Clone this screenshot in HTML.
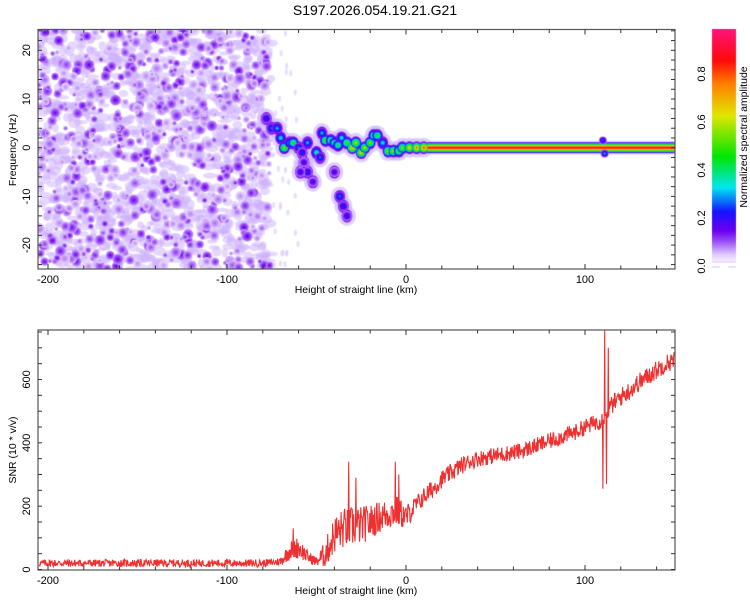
<!DOCTYPE html>
<html><head><meta charset="utf-8">
<style>
html,body{margin:0;padding:0;background:#fff;}
#wrap{position:relative;width:750px;height:600px;overflow:hidden;font-family:"Liberation Sans",sans-serif;}
canvas,svg{position:absolute;left:0;top:0;}
</style></head>
<body>
<div id="wrap">
<canvas id="heat" width="750" height="600"></canvas>
<svg id="svg" width="750" height="600"></svg>
</div>
<script>
// ---- data ----
const ridgeKm   = [-78,-75,-72,-70,-68,-65,-63,-60,-58,-57,-55,-52,-55,-50,-48,-47,-45,-42,-40,-38,-36,-33,-30,-28,-25,-23,-20,-18,-16,-13,-10,-7,-4,-2,2,6,10,-59,-57,-40,-37,-35,-33];
const ridgeHz   = [6,4,4,2,0,1,1,0,-1,-4,-5,-7,1,-1,-2,3,1.5,1.5,1,0.5,2,1,0,1,-1,0,1,2.5,2.5,1,-0.7,-0.7,-0.7,0,0,0,0,-5,-3,-5,-10,-12,-14];
const ridgeAmp  = [0.15,0.2,0.25,0.3,0.55,0.3,0.45,0.2,0.15,0.12,0.15,0.1,0.25,0.35,0.2,0.25,0.5,0.45,0.4,0.4,0.3,0.5,0.75,0.6,0.7,0.6,0.55,0.45,0.45,0.3,0.6,0.6,0.5,0.55,0.7,0.8,0.85,0.12,0.1,0.1,0.2,0.15,0.13];
const bandStartKm = 12, bandEndKm = 150, bandAmp = 0.92;
const snrKm   = [-205,-200,-195,-190,-185,-180,-175,-170,-165,-160,-155,-150,-145,-140,-135,-130,-125,-120,-115,-110,-105,-100,-95,-90,-85,-80,-75,-70,-65,-60,-55,-50,-45,-40,-35,-30,-25,-20,-15,-10,-5,0,5,10,15,20,25,30,35,40,45,50,55,60,65,70,75,80,85,90,95,100,105,110,115,120,125,130,135,140,145,150];
const snrBase = [20,20,20,20,20,20,20,20,20,20,20,20,20,20,20,20,20,20,20,20,20,20,20,20,20,20,22,25,60,70,40,25,50,110,130,135,140,150,165,175,185,165,200,230,255,285,305,325,340,350,355,360,365,370,375,385,395,405,415,425,435,450,462,475,520,545,565,590,610,630,650,660];
const snrNoise= [12,12,12,12,12,12,12,12,12,12,12,12,12,12,12,12,12,12,12,12,12,12,12,12,12,12,12,14,30,35,20,15,45,60,65,65,60,55,50,50,50,40,30,30,30,28,28,28,26,26,26,26,26,26,26,26,26,26,26,26,26,26,26,30,30,30,30,30,30,30,30,30];
const spikeKm  = [-63,-32,-28,-6,-4,110,111,112,113];
const spikeVal = [130,340,290,340,300,255,760,270,700];
const xTicksLabels = [-200,-100,0,100];
const fTickLabels = [-20,-10,0,10,20];
const snrTickLabels = [0,200,400,600];
const cbTickLabels = [0.0,0.2,0.4,0.6,0.8];

// ---- scales ----
const PL=38,PR=675,TT=29.5,TB=269,BT=330,BB=570;
const xs=km=>406+km*1.79;
const yf=f=>147.7-f*4.87;
const ys=v=>569.5-v*0.3167;
const cbY=a=>264-a*240;

const stops=[[0,[255,255,255]],[0.04,[225,205,255]],[0.1,[150,70,245]],[0.14,[110,0,240]],[0.22,[20,20,255]],[0.32,[0,230,240]],[0.45,[0,230,0]],[0.62,[225,230,0]],[0.75,[255,130,0]],[0.85,[255,10,10]],[1,[255,20,140]]];
function cmap(a){a=Math.max(0,Math.min(1,a));for(let i=1;i<stops.length;i++){if(a<=stops[i][0]){const [a0,c0]=stops[i-1],[a1,c1]=stops[i];const t=(a-a0)/(a1-a0);return 'rgb('+c0.map((c,j)=>Math.round(c+(c1[j]-c)*t)).join(',')+')';}}return 'rgb(255,20,140)';}

// ---- heatmap canvas ----
const cv=document.getElementById('heat'),ctx=cv.getContext('2d');
ctx.save();ctx.beginPath();ctx.rect(PL,TT,PR-PL,TB-TT);ctx.clip();
let seed=12345;function rnd(){seed=(seed*1103515245+12345)&0x7fffffff;return seed/0x7fffffff;}
function blob(x,y,R,amp,inner){inner=inner||0.75;for(let r=R;r>0;r-=0.6){ctx.fillStyle=cmap(amp*(1-inner*r/R));ctx.beginPath();ctx.arc(x,y,r,0,7);ctx.fill();}}
// background noise texture (left region)
for(let i=0;i<1300;i++){const x=PL+rnd()*(xs(-75)-PL);const y=TT+rnd()*(TB-TT);ctx.fillStyle='rgba(205,175,255,0.5)';ctx.beginPath();ctx.ellipse(x,y,3+rnd()*4,2+rnd()*3,0,0,7);ctx.fill();}
for(let i=0;i<700;i++){const x=PL+rnd()*(xs(-76)-PL);const y=TT+rnd()*(TB-TT);const a=0.07+rnd()*0.09;blob(x,y,2+rnd()*3.5,a,0.55);}
for(let i=0;i<40;i++){const x=xs(-74+rnd()*14);const y=TT+rnd()*(TB-TT);ctx.fillStyle='rgba(215,195,255,0.6)';ctx.beginPath();ctx.ellipse(x,y,1.5,3,0,0,7);ctx.fill();}
// ridge halos
for(let i=0;i<ridgeKm.length;i++){ctx.fillStyle='rgba(210,185,255,0.7)';ctx.beginPath();ctx.ellipse(xs(ridgeKm[i]),yf(ridgeHz[i]),9,10,0,0,7);ctx.fill();}
for(let i=0;i<ridgeKm.length;i++){ctx.fillStyle='rgb(120,20,235)';ctx.beginPath();ctx.ellipse(xs(ridgeKm[i]),yf(ridgeHz[i]),5.5,6.5,0,0,7);ctx.fill();}
for(let i=0;i<ridgeKm.length;i++){blob(xs(ridgeKm[i]),yf(ridgeHz[i]),5,ridgeAmp[i]*0.95+0.12,0.7);}
// band
const bx0=xs(bandStartKm),bx1=Math.min(PR,xs(bandEndKm));
ctx.fillStyle='rgba(215,195,255,0.7)';ctx.fillRect(bx0,yf(0)-7,bx1-bx0,14);
for(let d=5.5;d>=0;d-=0.5){ctx.fillStyle=cmap(bandAmp*(1-d/6)+0.05);ctx.fillRect(bx0,yf(0)-d,bx1-bx0,2*d);}
blob(xs(110),yf(1.5),4,0.3);blob(xs(111),yf(-1.2),4,0.35);
ctx.restore();
// colorbar
for(let y=29;y<=260;y++){ctx.fillStyle=cmap((264-y)/240);ctx.fillRect(712,y,24,1);}
ctx.fillStyle='#e8dcff';ctx.fillRect(712,261,24,2);ctx.fillRect(712,266,8,2);ctx.fillRect(728,266,8,2);

// ---- svg ----
const svg=document.getElementById('svg');const NS='http://www.w3.org/2000/svg';
function el(t,a,p){const e=document.createElementNS(NS,t);for(const k in a)e.setAttribute(k,a[k]);(p||svg).appendChild(e);return e;}
function txt(s,x,y,a,name){const e=el('text',Object.assign({x:x,y:y,'font-size':11,fill:'#000','text-anchor':'middle'},a||{}));e.textContent=s;


return e;}
txt('S197.2026.054.19.21.G21',375,15,{'font-size':14},'chart-title');

function frame(top,bot,yscale,ymin,ymax,ystep,name){
 const r=el('rect',{x:PL,y:top,width:PR-PL,height:bot-top,fill:'none',stroke:'#555','stroke-width':1.2});
 
 
 for(let k=-200;k<=140;k+=20){const x=xs(k);const L=(k%100===0)?5:3.5;
  const a=el('line',{x1:x,x2:x,y1:top,y2:top+L,stroke:'#333'});
  const b=el('line',{x1:x,x2:x,y1:bot,y2:bot-L,stroke:'#333'});}
 for(let v=ymin;v<=ymax;v+=ystep){const y=yscale(v);if(y<top-0.5||y>bot+0.5)continue;
  const a=el('line',{x1:PL,x2:PL+4,y1:y,y2:y,stroke:'#333'});
  const b=el('line',{x1:PR,x2:PR-4,y1:y,y2:y,stroke:'#333'});}
 xTicksLabels.forEach(k=>txt(String(k),xs(k),bot+14,{},'x-tick-label'));
 txt('Height of straight line (km)',356,bot+24,{'font-size':10.5},'x-axis-title');
}
frame(TT,TB,yf,-24,24,2,'spectrogram');
fTickLabels.forEach(f=>{txt(String(f),0,0,{transform:`translate(30,${yf(f)}) rotate(-90)`},'y-tick-label');});
txt('Frequency (Hz)',0,0,{transform:`translate(16,150) rotate(-90)`,'font-size':10.5},'y-axis-title');

// SNR line
const pts=[];let s2=777;function r2(){s2=(s2*1103515245+12345)&0x7fffffff;return s2/0x7fffffff;}
function interp(arr,km){for(let i=1;i<snrKm.length;i++){if(km<=snrKm[i]){const t=(km-snrKm[i-1])/(snrKm[i]-snrKm[i-1]);return arr[i-1]+(arr[i]-arr[i-1])*t;}}return arr[arr.length-1];}
for(let km=-205;km<=150;km+=0.25){let v=interp(snrBase,km)+(r2()-0.5)*2*interp(snrNoise,km);
 for(let j=0;j<spikeKm.length;j++){if(Math.abs(km-spikeKm[j])<0.13)v=spikeVal[j];}
 v=Math.max(0,Math.min(760,v));pts.push(xs(km).toFixed(1)+','+ys(v).toFixed(1));}
const cp=el('clipPath',{id:'bc'});el('rect',{x:PL,y:BT,width:PR-PL,height:BB-BT},cp);
const pl=el('polyline',{points:pts.join(' '),fill:'none',stroke:'#f03030','stroke-width':1.1,'clip-path':'url(#bc)'});


frame(BT,BB,ys,0,760,50,'snr');
snrTickLabels.forEach(v=>{txt(String(v),0,0,{transform:`translate(30,${ys(v)}) rotate(-90)`},'y-tick-label');});
txt('SNR (10 * v/v)',0,0,{transform:`translate(16,450) rotate(-90)`,'font-size':10.5},'y-axis-title');

// colorbar labels
const cbr=el('rect',{x:712,y:29,width:24,height:232,fill:'none',stroke:'none'});


cbTickLabels.forEach(a=>{txt(a.toFixed(1),0,0,{transform:`translate(705,${cbY(a)+2}) rotate(-90)`},'colorbar-tick-label');});
txt('Normalized spectral amplitude',0,0,{transform:`translate(747,137) rotate(-90)`,'font-size':10.5},'colorbar-title');
</script>
</body></html>
